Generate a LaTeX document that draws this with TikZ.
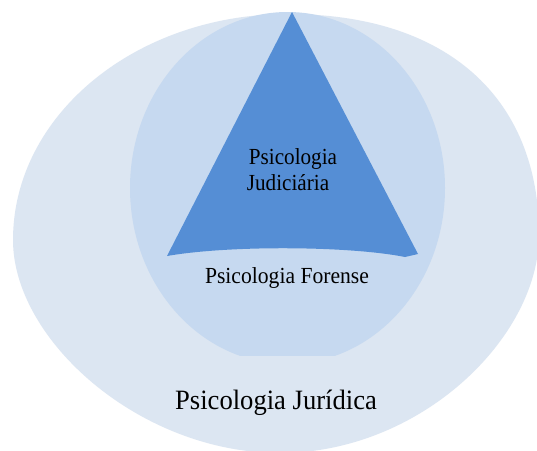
\documentclass[tikz,border=0pt]{standalone}
\usepackage{fontspec}
\setmainfont{Liberation Serif}
\definecolor{outerc}{RGB}{220,230,242}
\definecolor{innerc}{RGB}{198,217,240}
\definecolor{trianc}{RGB}{85,142,213}
\begin{document}
\begin{tikzpicture}[x=1pt,y=-1pt,
  lbl/.style={inner sep=0pt,anchor=base,text=black}]
\useasboundingbox (0,0) rectangle (537,450);
\fill[white] (0,0) rectangle (537,450);
% outer egg-shaped ellipse (image coordinates, y downwards)
\fill[outerc] (13,240) .. controls (13,115) and (136,14) .. (288,14)
  .. controls (446,14) and (539,97) .. (539,235)
  .. controls (539,338) and (420,453) .. (280,453)
  .. controls (140,453) and (13,340) .. cycle;
% inner circle, flattened at bottom
\begin{scope}
  \clip (0,0) rectangle (537,355);
  \fill[innerc] (287.5,188) ellipse [x radius=157.5, y radius=176];
\end{scope}
% triangle with curved base
\fill[trianc] (292,12) -- (418,254) -- (405,257)
  .. controls (350,246) and (230,245) .. (167,256) -- cycle;
% labels
\node[lbl,font=\fontsize{23}{26}\selectfont,xscale=0.92] (j1) at (293,164) {Psicologia};
\node[lbl,font=\fontsize{23}{26}\selectfont,xscale=0.92] (j2) at (288,190) {Judiciária};
\node[lbl,font=\fontsize{23}{26}\selectfont,xscale=0.94] (f) at (287,283) {Psicologia Forense};
\node[lbl,font=\fontsize{28}{32}\selectfont,xscale=0.95] (jur) at (276,409) {Psicologia Jurídica};
\end{tikzpicture}
\end{document}
